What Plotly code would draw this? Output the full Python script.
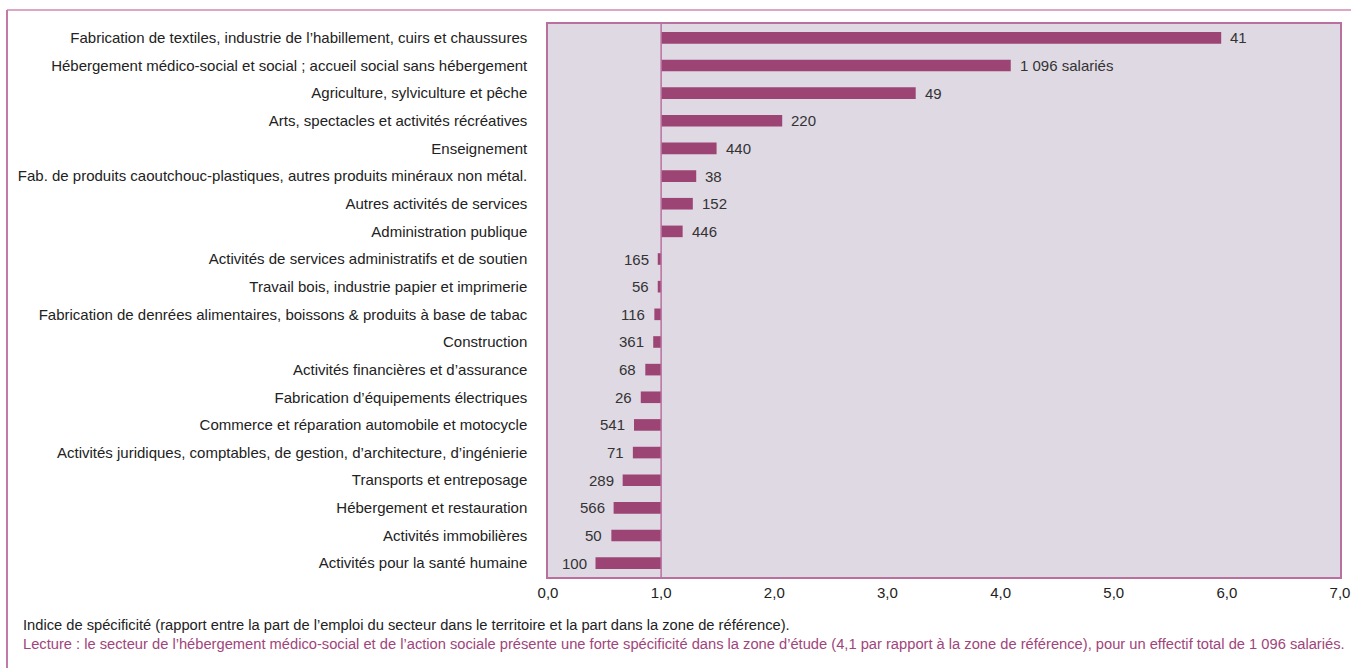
import plotly.graph_objects as go

categories = [
    "Fabrication de textiles, industrie de l’habillement, cuirs et chaussures",
    "Hébergement médico-social et social ; accueil social sans hébergement",
    "Agriculture, sylviculture et pêche",
    "Arts, spectacles et activités récréatives",
    "Enseignement",
    "Fab. de produits caoutchouc-plastiques, autres produits minéraux non métal.",
    "Autres activités de services",
    "Administration publique",
    "Activités de services administratifs et de soutien",
    "Travail bois, industrie papier et imprimerie",
    "Fabrication de denrées alimentaires, boissons & produits à base de tabac",
    "Construction",
    "Activités financières et d’assurance",
    "Fabrication d’équipements électriques",
    "Commerce et réparation automobile et motocycle",
    "Activités juridiques, comptables, de gestion, d’architecture, d’ingénierie",
    "Transports et entreposage",
    "Hébergement et restauration",
    "Activités immobilières",
    "Activités pour la santé humaine",
]
indices = [5.95, 4.09, 3.25, 2.07, 1.49, 1.31, 1.28, 1.19, 0.97, 0.97,
           0.94, 0.93, 0.86, 0.82, 0.76, 0.75, 0.66, 0.58, 0.56, 0.42]
labels = ["41", "1 096 salariés", "49", "220", "440", "38", "152", "446", "165", "56",
          "116", "361", "68", "26", "541", "71", "289", "566", "50", "100"]
tick_vals = [0, 1, 2, 3, 4, 5, 6, 7]
tick_text = ["0,0", "1,0", "2,0", "3,0", "4,0", "5,0", "6,0", "7,0"]
reference = 1.0

note1 = "Indice de spécificité (rapport entre la part de l’emploi du secteur dans le territoire et la part dans la zone de référence)."
note2 = ("Lecture : le secteur de l’hébergement médico-social et de l’action sociale présente une forte spécificité "
         "dans la zone d’étude (4,1 par rapport à la zone de référence), pour un effectif total de 1 096 salariés.")

BAR = "#9c4473"
BORDER = "#b9709f"
FONT = "Liberation Sans, Arial, sans-serif"

fig = go.Figure()
fig.add_trace(go.Bar(
    y=categories,
    x=[v - reference for v in indices],
    base=reference,
    orientation="h",
    marker=dict(color=BAR, line=dict(width=0)),
    width=0.42,
    hoverinfo="skip",
))

annotations = []
for c, v, t in zip(categories, indices, labels):
    pos = v >= reference
    annotations.append(dict(
        x=v, y=c, xref="x", yref="y", text=t, showarrow=False,
        xanchor="left" if pos else "right", xshift=7 if pos else -7,
        font=dict(size=15, color="#333333", family=FONT),
    ))

W, H = 1351, 668
L, R, T, B = 548, 11, 24, 91
pw, ph = W - L - R, H - T - B


def px(x):
    return (x - L) / pw


def py(y):
    return (H - B - y) / ph


annotations.append(dict(x=px(21), y=py(625), xref="paper", yref="paper", text=note1,
                        showarrow=False, xanchor="left", yanchor="middle",
                        font=dict(size=14.7, color="#222222", family=FONT)))
annotations.append(dict(x=px(21), y=py(644), xref="paper", yref="paper", text=note2,
                        showarrow=False, xanchor="left", yanchor="middle",
                        font=dict(size=14.7, color="#a0457a", family=FONT)))

shapes = [
    dict(type="line", xref="x", yref="paper", x0=reference, x1=reference, y0=0, y1=1,
         line=dict(color=BORDER, width=1.5)),
    dict(type="line", xref="paper", yref="paper", x0=px(7), x1=px(1351), y0=py(10), y1=py(10),
         line=dict(color="#dca6c6", width=2)),
    dict(type="line", xref="paper", yref="paper", x0=px(7), x1=px(7), y0=py(10), y1=py(668),
         line=dict(color="#c27aa6", width=2)),
]

fig.update_layout(
    width=W, height=H,
    margin=dict(l=L, r=R, t=T, b=B, autoexpand=False),
    paper_bgcolor="white",
    plot_bgcolor="#dfd9e4",
    showlegend=False,
    font=dict(family=FONT, size=15, color="#222222"),
    annotations=annotations,
    shapes=shapes,
)
fig.update_xaxes(
    range=[0, 7], tickvals=tick_vals, ticktext=tick_text,
    showgrid=False, zeroline=False, automargin=False,
    showline=True, mirror=True, linecolor=BORDER, linewidth=1.5,
    ticks="outside", ticklen=1, tickcolor="rgba(0,0,0,0)",
    tickfont=dict(size=15, color="#222222", family=FONT),
)
fig.update_yaxes(
    autorange="reversed",
    showgrid=False, zeroline=False, automargin=False,
    showline=True, mirror=True, linecolor=BORDER, linewidth=1.5,
    ticks="outside", ticklen=16, tickcolor="rgba(0,0,0,0)",
    tickfont=dict(size=15, color="#222222", family=FONT),
)

fig.write_html("out.html")
